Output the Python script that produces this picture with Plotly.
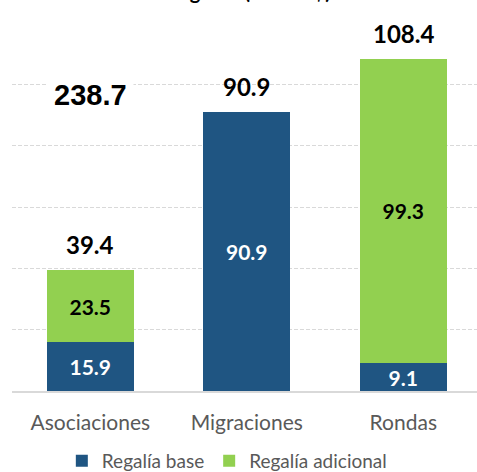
import plotly.graph_objects as go

categories = ["Asociaciones", "Migraciones", "Rondas"]
regalia_base = [15.9, 90.9, 9.1]
regalia_adicional = [23.5, None, 99.3]
totales = [39.4, 90.9, 108.4]
total_general = 238.7
title_text = "Regalías (MMUS$)"

BLUE = "#1F5582"
GREEN = "#92D050"
FONT = "Lato"

fig = go.Figure()
fig.add_trace(go.Bar(
    x=categories, y=regalia_base, name="Regalía base",
    marker=dict(color=BLUE, line=dict(width=0)),
    text=[f"{v:.1f}" for v in regalia_base], textposition="inside",
    insidetextanchor="middle", constraintext="none",
    textfont=dict(family=FONT, size=21, color="white", weight="bold"),
    width=0.556,
))
fig.add_trace(go.Bar(
    x=categories, y=regalia_adicional, name="Regalía adicional",
    marker=dict(color=GREEN, line=dict(width=0)),
    text=[f"{v:.1f}" if v is not None else "" for v in regalia_adicional],
    textposition="inside", insidetextanchor="middle", constraintext="none",
    textfont=dict(family=FONT, size=21, color="black", weight="bold"),
    width=0.556,
))

for c, t in zip(categories, totales):
    fig.add_annotation(x=c, y=t, text=f"<b>{t:.1f}</b>", showarrow=False,
                       yanchor="bottom", yshift=9,
                       font=dict(family=FONT, size=24, color="black"))

fig.add_annotation(x=categories[0], y=96.5, text=f"<b>{total_general:.1f}</b>",
                   showarrow=False, xshift=0, bgcolor="white", borderpad=6,
                   font=dict(family="Liberation Sans", size=29, color="black"))

fig.add_annotation(xref="paper", yref="paper", x=0.51, y=1 + 18 / 368,
                   yanchor="bottom", text=f"<b>{title_text}</b>", showarrow=False,
                   font=dict(family=FONT, size=20, color="black"))

fig.update_layout(
    barmode="stack",
    width=477, height=472,
    margin=dict(l=12, r=0, t=23, b=81, autoexpand=False),
    paper_bgcolor="white", plot_bgcolor="white",
    showlegend=True,
    legend=dict(orientation="h", x=0.462, xanchor="center", y=-0.19,
                yanchor="middle", font=dict(family=FONT, size=19, color="#595959"),
                traceorder="normal", itemwidth=30),
    font=dict(family=FONT),
)
fig.update_xaxes(range=[-0.5, 2.471], showgrid=False, showline=True,
                 linecolor="#d9d9d9", linewidth=1.5, ticks="",
                 ticklabelstandoff=12,
                 tickfont=dict(family=FONT, size=21, color="#595959"))
fig.update_yaxes(range=[0, 120], dtick=20, showgrid=True, gridcolor="#d9d9d9",
                 griddash="4px,2px", gridwidth=1, showticklabels=False,
                 zeroline=False, showline=False)

fig.write_html("out.html", config={"displayModeBar": False},
               post_script="document.body.style.margin='0';document.body.style.overflow='hidden';")
